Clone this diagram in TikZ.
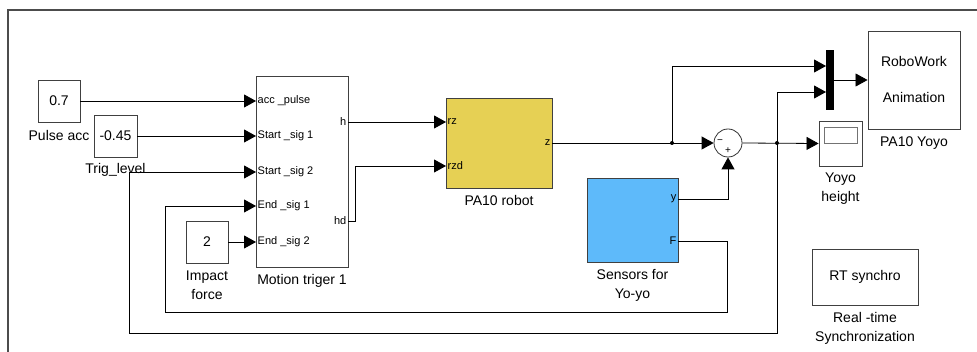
\documentclass[tikz,border=0pt]{standalone}
\usepackage{fontspec}
\setmainfont{Liberation Sans}
\usetikzlibrary{positioning,arrows.meta}
\definecolor{robyellow}{RGB}{230,208,84}
\definecolor{sensblue}{RGB}{94,186,250}

\begin{document}
\begin{tikzpicture}[x=1pt,y=-1pt,
	blk/.style={draw=black!75, line width=0.9pt, rectangle, inner sep=0pt, font=\fontsize{14}{19}\selectfont},
	lbl/.style={inner sep=1pt, align=center, font=\fontsize{14}{19}\selectfont},
	portl/.style={inner sep=1.5pt, font=\fontsize{11}{13}\selectfont},
	sig/.style={line width=0.8pt, -{Triangle[length=12pt,width=13pt]}},
	jct/.style={circle, fill, inner sep=0pt, minimum size=4pt}]
	\useasboundingbox (0,0) rectangle (977,352);
	\draw[black!70, line width=1.3pt] (8,352) -- (8,10) -- (977,10);

	% sources
	\node[blk, minimum width=42pt, minimum height=42pt] (pulse) at (59,101) {0.7};
	\node[lbl, below=7pt of pulse] (pulselbl) {Pulse acc};
	\node[blk, minimum width=43pt, minimum height=42pt] (trig) at (115.5,136) {-0.45};
	\node[lbl, below=5pt of trig] (triglbl) {Trig\_level};
	\node[blk, minimum width=42pt, minimum height=42pt] (impact) at (207,242) {2};
	\node[lbl, below=6pt of impact] (impactlbl) {Impact\\force};

	% motion trigger
	\node[blk, minimum width=92pt, minimum height=191pt] (mot) at (302,171.5) {};
	\node[lbl, below=6pt of mot] (motlbl) {Motion triger 1};
	\node[portl, anchor=west] (accp) at (256,101) {acc \_pulse};
	\node[portl, anchor=west] (st1) at (256,136) {Start \_sig 1};
	\node[portl, anchor=west] (st2) at (256,172) {Start \_sig 2};
	\node[portl, anchor=west] (es1) at (256,206) {End \_sig 1};
	\node[portl, anchor=west] (es2) at (256,242) {End \_sig 2};
	\node[portl, anchor=east] (hp) at (348,122) {h};
	\node[portl, anchor=east] (hdp) at (348,221) {hd};

	% robot
	\node[blk, fill=robyellow, minimum width=106pt, minimum height=90pt] (robot) at (499,143) {};
	\node[lbl, below=6pt of robot] (robotlbl) {PA10 robot};
	\node[portl, anchor=west] (rz) at (446,122) {rz};
	\node[portl, anchor=west] (rzd) at (446,166) {rzd};
	\node[portl, anchor=east] (zp) at (552,143) {z};

	% sum
	\node[circle, draw=black!80, line width=0.8pt, minimum size=28pt, inner sep=0pt] (sum) at (728,143) {};
	\node[inner sep=0pt, font=\fontsize{10}{10}\selectfont] (minus) at (720,142) {−};
	\node[inner sep=0pt, font=\fontsize{10}{10}\selectfont] (plus) at (728,151) {+};

	% sensors
	\node[blk, fill=sensblue, minimum width=91pt, minimum height=84pt] (sens) at (632.5,220) {};
	\node[lbl, below=6pt of sens] (senslbl) {Sensors for\\Yo-yo};
	\node[portl, anchor=east] (yp) at (678,199) {y};
	\node[portl, anchor=east] (Fp) at (678,241) {F};

	% mux, animation, scope
	\node[fill=black, minimum width=8pt, minimum height=60pt, inner sep=0pt] (mux) at (830,80) {};
	\coordinate (mxin1) at (826,66);
	\coordinate (mxin2) at (826,92);
	\node[blk, minimum width=92pt, minimum height=98pt, align=center] (robo) at (914,80) {RoboWork\\[17pt]Animation};
	\node[lbl, below=6pt of robo] (robolbl) {PA10 Yoyo};
	\node[blk, minimum width=43pt, minimum height=45pt] (scope) at (840.5,143.5) {};
	\node[draw=black!55, line width=0.8pt, minimum width=33pt, minimum height=16pt, inner sep=0pt] (screen) at (840.5,135) {};
	\node[lbl, below=5pt of scope] (scopelbl) {Yoyo\\height};

	% real time
	\node[blk, minimum width=106pt, minimum height=56pt] (rt) at (865,277) {RT synchro};
	\node[lbl, below=6pt of rt] (rtlbl) {Real -time\\Synchronization};

	% wires
	\node[jct] (br1) at (672,143) {};
	\node[jct] (br2) at (777,143) {};
	\draw[sig] (pulse.east) -- (accp.west);
	\draw[sig] (trig.east) -- (st1.west);
	\draw[sig] (impact.east) -- (es2.west);
	\draw[sig] (hp.east) -- (rz.west);
	\draw[sig] (hdp.east) -- ++(7,0) |- (rzd.west);
	\draw[sig] (zp.east) -- (sum.west);
	\draw[sig] (br1.center) |- (mxin1);
	\draw[sig] (yp.east) -| (sum.south);
	\draw[sig] (sum.east) -- (scope.west);
	\draw[sig] (br2.center) |- (mxin2);
	\draw[sig] (br2.center) -- (777,333) -- (129,333) |- (st2.west);
	\draw[sig] (Fp.east) -| (727,312) -- (165,312) |- (es1.west);
	\draw[sig] (mux.east) -- (robo.west);
\end{tikzpicture}
\end{document}
